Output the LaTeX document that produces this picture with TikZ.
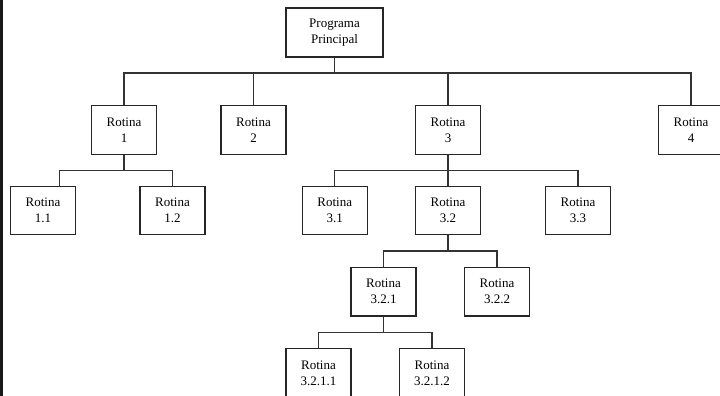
\documentclass[tikz,border=0pt]{standalone}
\usepackage{fontspec}
\setmainfont{Liberation Serif}
\begin{document}
\begin{tikzpicture}[x=1pt,y=-1pt,
  box/.style={draw=black!85, line width=1.2pt, rectangle, inner sep=0pt,
    minimum width=65pt, minimum height=48.5pt, align=center,
    font=\fontsize{13}{16}\selectfont, fill=white},
  link/.style={draw=black!80, line width=1.2pt}]
\useasboundingbox (0,0) rectangle (720,396);
\clip (0,0) rectangle (720,396);
\fill[black!90] (0,0) rectangle (2.8,396);
% nodes
\node[box, minimum width=97pt, minimum height=49pt] (pp) at (334.5,32.5) {Programa\\Principal};
\node[box] (r1) at (124,130) {Rotina\\1};
\node[box] (r2) at (253.5,130) {Rotina\\2};
\node[box] (r3) at (448,130) {Rotina\\3};
\node[box] (r4) at (691,130) {Rotina\\4};
\node[box] (r11) at (43,210.5) {Rotina\\1.1};
\node[box] (r12) at (172.5,210.5) {Rotina\\1.2};
\node[box] (r31) at (334.7,210.5) {Rotina\\3.1};
\node[box] (r32) at (448,210.5) {Rotina\\3.2};
\node[box] (r33) at (578,210.5) {Rotina\\3.3};
\node[box] (r321) at (383.5,291.7) {Rotina\\3.2.1};
\node[box] (r322) at (497,291.7) {Rotina\\3.2.2};
\node[box] (r3211) at (318.5,372.8) {Rotina\\3.2.1.1};
\node[box] (r3212) at (432,372.8) {Rotina\\3.2.1.2};
% bus coordinates
\coordinate (b0) at (335,73);
\coordinate (b1) at (124,170.3);
\coordinate (b3) at (448,170.3);
\coordinate (b32) at (448,251);
\coordinate (b321) at (383.5,332.3);
\coordinate (d11) at (59.3,186);
% connectors
\draw[link] (pp.south) -- (pp.south |- b0);
\draw[link] (r1.north) -- (r1.north |- b0) -- (r4.north |- b0) -- (r4.north);
\draw[link] (r2.north) -- (r2.north |- b0);
\draw[link] (r3.north) -- (r3.north |- b0);
\draw[link] (r1.south) -- (b1);
\draw[link] (d11) -- (d11 |- b1) -- (r12.north |- b1) -- (r12.north);
\draw[link] (r3.south) -- (b3);
\draw[link] (r31.north) -- (r31.north |- b3) -- (r33.north |- b3) -- (r33.north);
\draw[link] (r32.north) -- (r32.north |- b3);
\draw[link] (r32.south) -- (b32);
\draw[link] (r321.north) -- (r321.north |- b32) -- (r322.north |- b32) -- (r322.north);
\draw[link] (r321.south) -- (b321);
\draw[link] (r3211.north) -- (r3211.north |- b321) -- (r3212.north |- b321) -- (r3212.north);
\end{tikzpicture}
\end{document}
